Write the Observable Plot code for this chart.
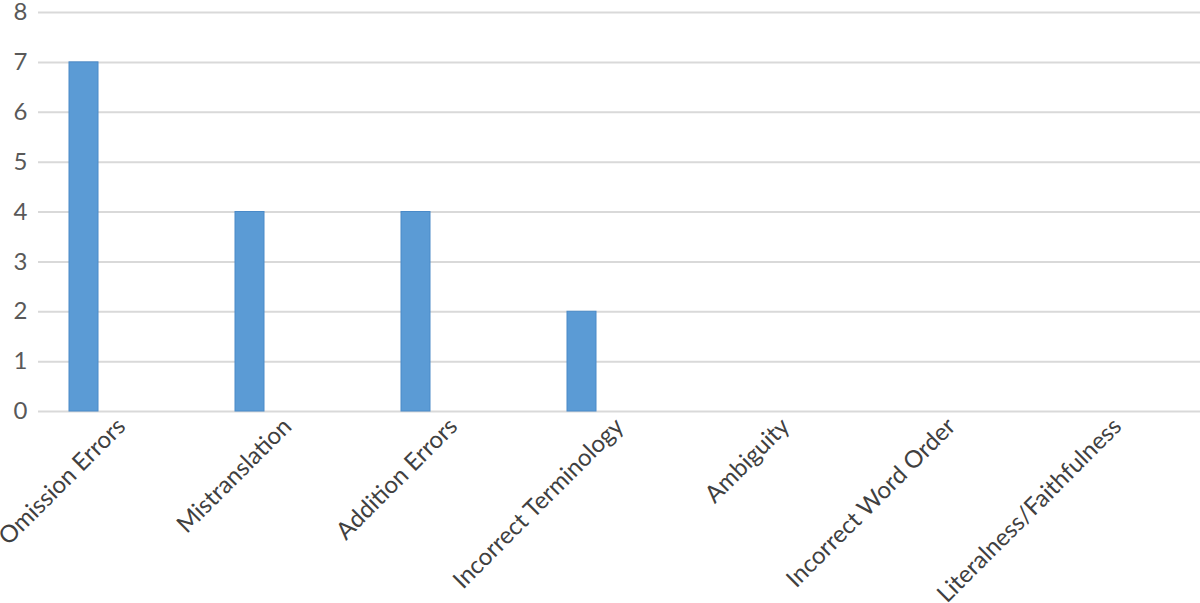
<!DOCTYPE html>
<html>
<head>
<meta charset="utf-8">
<script src="https://cdn.jsdelivr.net/npm/d3@7"></script>
<script src="https://cdn.jsdelivr.net/npm/@observablehq/plot@0.6"></script>
<style>
  html, body { margin: 0; padding: 0; background: #fff; }
  #chart svg { display: block; }
</style>
</head>
<body>
<div id="chart"></div>
<script>
const categories = ["Omission Errors", "Mistranslation", "Addition Errors", "Incorrect Terminology", "Ambiguity", "Incorrect Word Order", "Literalness/Faithfulness"];
const values = [7, 4, 4, 2, 0, 0, 0];
const yTicks = [0, 1, 2, 3, 4, 5, 6, 7, 8];

const data = categories.map((c, i) => ({category: c, value: values[i]}));

const chart = Plot.plot({
  width: 1200,
  height: 603,
  marginLeft: 38,
  marginRight: 0,
  marginTop: 12,
  marginBottom: 192,
  style: {fontFamily: "Lato, sans-serif", fontSize: "24px", background: "#fff", overflow: "visible"},
  x: {domain: categories, padding: 0, label: null},
  y: {domain: [0, 8], ticks: yTicks, label: null},
  marks: [
    Plot.gridY(yTicks, {stroke: "#d9d9d9", strokeOpacity: 1, strokeWidth: 2}),
    Plot.barY(data, {x: "category", y: "value", fill: "#5b9bd5", stroke: "#4a8ac8", strokeWidth: 1, insetLeft: 31, insetRight: 106}),
    Plot.axisY(yTicks, {tickSize: 0, tickPadding: 11, fontSize: 24, fill: "#595959", tickFormat: d => d}),
    Plot.axisX({tickSize: 0, tickRotate: -45, tickPadding: 6, fontSize: 24, fill: "#404040", dx: 0, dy: 5})
  ]
});
document.getElementById("chart").appendChild(chart);
</script>
</body>
</html>
